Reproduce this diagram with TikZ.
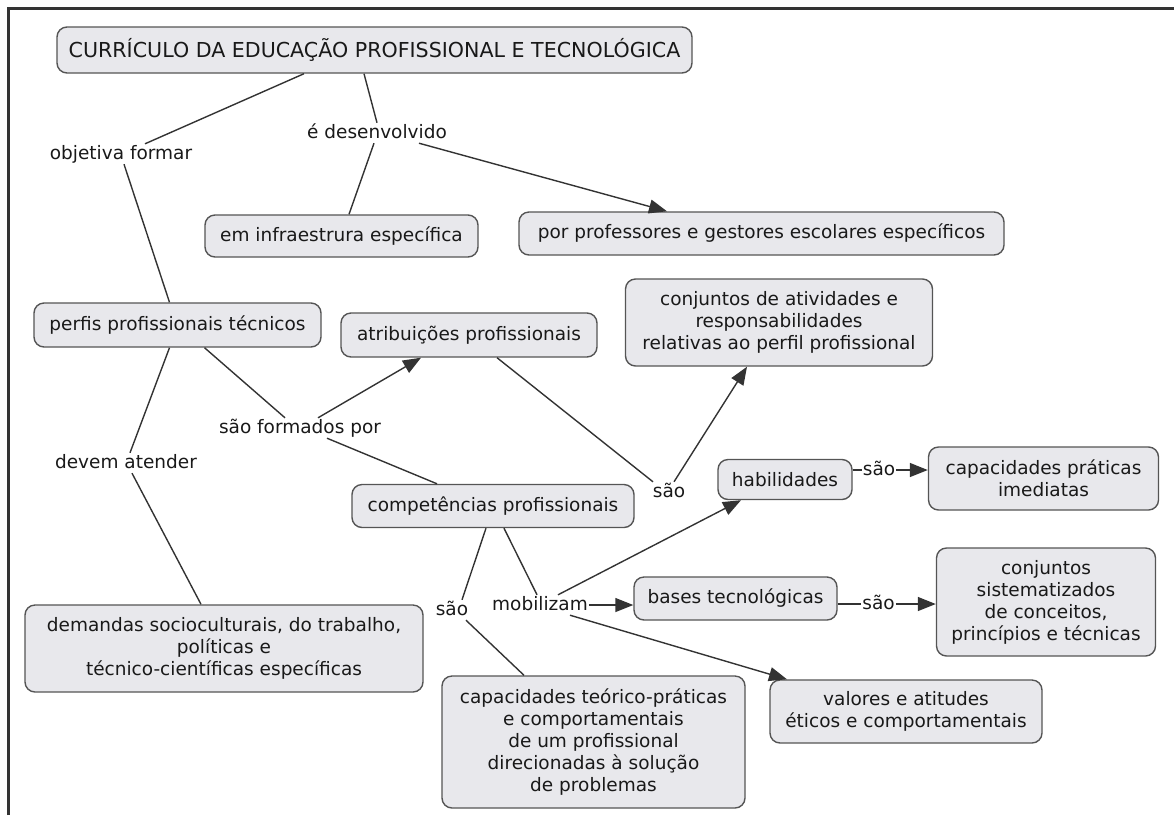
\documentclass[tikz,border=0pt]{standalone}
\usepackage{fontspec}
\setmainfont{DejaVu Sans}
\usetikzlibrary{arrows.meta}
\definecolor{boxfill}{RGB}{232,232,236}
\definecolor{boxdraw}{RGB}{85,85,85}
\definecolor{linec}{RGB}{51,51,51}
\definecolor{textc}{RGB}{25,25,25}
\begin{document}
\begin{tikzpicture}[x=1pt,y=-1pt,
  concept/.style={draw=boxdraw, fill=boxfill, line width=1.4pt, rounded corners=10pt,
    align=center, inner sep=3pt, text=textc, font=\fontsize{18.5}{22}\selectfont},
  lbl/.style={inner sep=1pt, text=textc, text height=14pt, text depth=4pt,
    font=\fontsize{18.5}{22}\selectfont},
  conn/.style={draw=linec, line width=1.4pt},
  arr/.style={conn, -{Triangle[length=18pt,width=14pt]}}]
\useasboundingbox (0,0) rectangle (1174,815);
% frame
\draw[line width=3pt, draw=linec] (8,815) -- (8,8) -- (1174,8);

% concepts
\node[concept, minimum width=635pt, minimum height=46pt, font=\fontsize{20.6}{24}\selectfont] (title) at (374.5,50) {CURRÍCULO DA EDUCAÇÃO PROFISSIONAL E TECNOLÓGICA};
\node[concept, minimum width=273pt, minimum height=42pt] (infra) at (341.5,236) {em infraestrura específica};
\node[concept, minimum width=485pt, minimum height=43pt] (por) at (761.5,233.5) {por professores e gestores escolares específicos};
\node[concept, minimum width=287pt, minimum height=44pt] (perfis) at (177.5,325) {perfis profissionais técnicos};
\node[concept, minimum width=256pt, minimum height=44pt] (atrib) at (469,335) {atribuições profissionais};
\node[concept, minimum width=307pt, minimum height=87pt] (conj) at (779,322.5) {conjuntos de atividades e\\responsabilidades\\relativas ao perfil profissional};
\node[concept, minimum width=134pt, minimum height=40pt] (hab) at (785,479.5) {habilidades};
\node[concept, minimum width=230pt, minimum height=63pt] (capp) at (1043.5,478.5) {capacidades práticas\\imediatas};
\node[concept, minimum width=282pt, minimum height=43pt] (comp) at (493,506) {competências profissionais};
\node[concept, minimum width=203pt, minimum height=43pt] (bases) at (735.5,598.5) {bases tecnológicas};
\node[concept, minimum width=219pt, minimum height=108pt] (conjs) at (1046,602) {conjuntos\\sistematizados\\de conceitos,\\princípios e técnicas};
\node[concept, minimum width=398pt, minimum height=87pt] (demandas) at (224,648.5) {demandas socioculturais, do trabalho,\\políticas e\\técnico-científicas específicas};
\node[concept, minimum width=303pt, minimum height=132pt] (capt) at (593.5,742) {capacidades teórico-práticas\\e comportamentais\\de um profissional\\direcionadas à solução\\de problemas};
\node[concept, minimum width=272pt, minimum height=63pt] (valores) at (906,711.5) {valores e atitudes\\éticos e comportamentais};

% linking phrases
\node[lbl] (of) at (121,154) {objetiva formar};
\node[lbl] (ed) at (377,133) {é desenvolvido};
\node[lbl] (sfp) at (300,428) {são formados por};
\node[lbl] (da) at (126,463) {devem atender};
\node[lbl] (sao1) at (669,492) {são};
\node[lbl] (sao2) at (452,610) {são};
\node[lbl] (mob) at (540,605) {mobilizam};
\node[lbl] (sao3) at (879,470) {são};
\node[lbl] (sao4) at (878.5,604) {são};

% connectors
\draw[conn] ([xshift=-70.5pt]title.south) -- ([xshift=24pt]of.north);
\draw[conn] ([xshift=3pt]of.south) -- ([xshift=-8pt]perfis.north);
\draw[conn] ([xshift=-10.5pt]title.south) -- (ed.north);
\draw[conn] ([xshift=-3pt]ed.south) -- ([xshift=7.5pt]infra.north);
\draw[arr] ([xshift=42pt]ed.south) -- ([xshift=-94.5pt]por.north);
\draw[conn] ([xshift=27pt]perfis.south) -- ([xshift=-15pt]sfp.north);
\draw[arr] ([xshift=18pt]sfp.north) -- ([xshift=-48pt]atrib.south);
\draw[conn] ([xshift=27pt]sfp.south) -- ([xshift=-56pt]comp.north);
\draw[conn] ([xshift=-8pt]perfis.south) -- ([xshift=4pt]da.north);
\draw[conn] ([xshift=6pt]da.south) -- ([xshift=-23pt]demandas.north);
\draw[conn] ([xshift=28pt]atrib.south) -- ([xshift=-16pt]sao1.north);
\draw[arr] ([xshift=5pt]sao1.north) -- ([xshift=-32pt]conj.south);
\draw[conn] ([xshift=-7pt]comp.south) -- ([xshift=10pt]sao2.north);
\draw[conn] ([xshift=14pt]sao2.south) -- ([xshift=-69.5pt]capt.north);
\draw[conn] ([xshift=11pt]comp.south) -- ([xshift=-3pt]mob.north);
\draw[arr] ([xshift=18pt]mob.north) -- ([xshift=-44pt]hab.south);
\draw[arr] (mob.east) -- (mob.east -| bases.west);
\draw[arr] ([xshift=30pt]mob.south) -- ([xshift=-119pt]valores.north);
\draw[conn] (sao3.west -| hab.east) -- (sao3.west);
\draw[arr] (sao3.east) -- (sao3.east -| capp.west);
\draw[conn] (sao4.west -| bases.east) -- (sao4.west);
\draw[arr] (sao4.east) -- (sao4.east -| conjs.west);
\end{tikzpicture}
\end{document}
